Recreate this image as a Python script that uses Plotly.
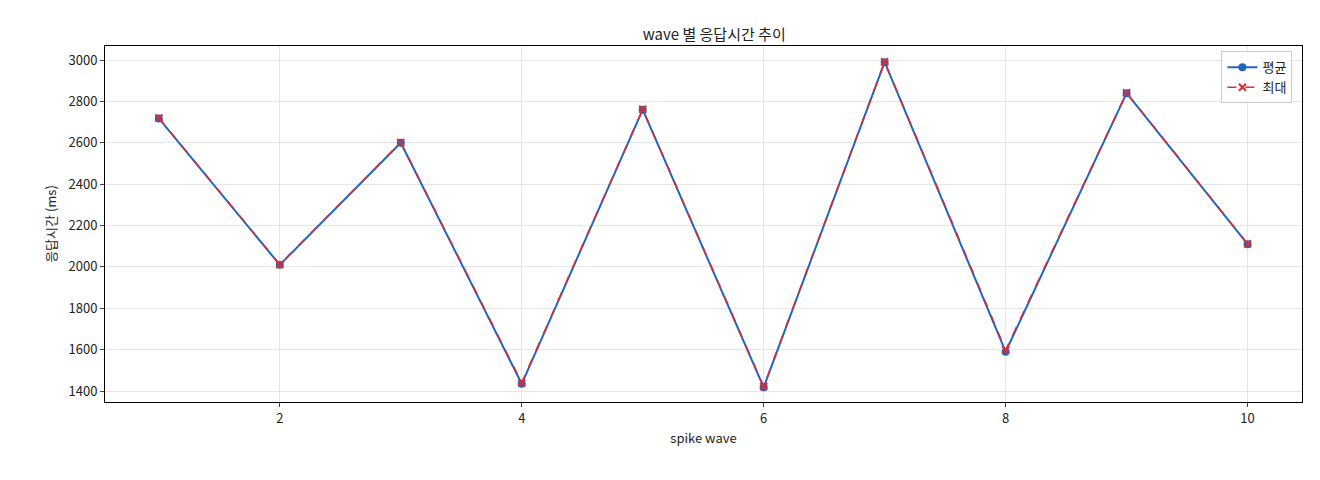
import plotly.graph_objects as go

waves = [1, 2, 3, 4, 5, 6, 7, 8, 9, 10]
avg_ms = [2718, 2010, 2600, 1435, 2760, 1418, 2990, 1590, 2840, 2110]
max_ms = [2720, 2012, 2602, 1440, 2762, 1422, 2992, 1598, 2842, 2112]

font = "Noto Sans CJK KR"

fig = go.Figure()
fig.add_trace(go.Scatter(
    x=waves, y=avg_ms, name="평균", mode="lines+markers",
    line=dict(color="#1f66c4", width=2),
    marker=dict(symbol="circle", size=8, color="#1f66c4"),
))
fig.add_trace(go.Scatter(
    x=waves, y=max_ms, name="최대", mode="lines+markers",
    line=dict(color="#d62f36", width=1.5, dash="dash"),
    marker=dict(symbol="x-thin", size=7, line=dict(color="#d62f36", width=2)),
))

fig.update_layout(
    width=1320, height=480,
    paper_bgcolor="white", plot_bgcolor="white",
    font=dict(family=font, size=13, color="#222"),
    title=dict(text="wave 별 응답시간 추이", x=0.535, xanchor="center", y=0.955, font=dict(size=15)),
    margin=dict(l=97, r=26, t=38, b=86),
    legend=dict(x=0.992, y=0.985, xanchor="right", yanchor="top",
                bgcolor="rgba(255,255,255,0.8)", bordercolor="#ccc", borderwidth=1,
                font=dict(size=13)),
    showlegend=True,
)
fig.update_xaxes(
    title_text="spike wave", title_font=dict(size=13), title_standoff=8,
    range=[0.555, 10.45],
    tickvals=[2, 4, 6, 8, 10], ticks="outside", ticklen=4,
    showgrid=True, gridcolor="#e6e6e6", showline=True, linecolor="black", mirror=True,
    zeroline=False,
)
fig.update_yaxes(
    title_text="응답시간 (ms)", title_font=dict(size=13), title_standoff=8,
    range=[1347, 3068],
    tickvals=[1400, 1600, 1800, 2000, 2200, 2400, 2600, 2800, 3000], ticks="outside", ticklen=4,
    showgrid=True, gridcolor="#e6e6e6", showline=True, linecolor="black", mirror=True,
    zeroline=False,
)

fig.write_html("out.html")
